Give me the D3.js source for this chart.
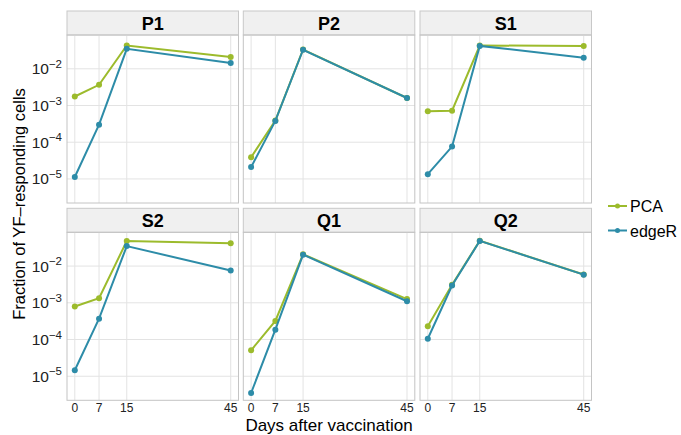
<!DOCTYPE html>
<html>
<head>
<meta charset="utf-8">
<script src="https://cdn.jsdelivr.net/npm/d3@7"></script>
<style>
  body { margin: 0; background: white; }
  text { font-family: "Liberation Sans", Arial, sans-serif; }
</style>
</head>
<body>
<div id="chart"></div>
<script>
// chart data

const days = [0, 7, 15, 45];
const panels = ["P1", "P2", "S1", "S2", "Q1", "Q2"];
const methods = ["PCA", "edgeR"];
const yTickExps = [-2, -3, -4, -5];

// one row per panel, values at days 0, 7, 15, 45
const pcaValues = [
    [1.76e-3, 3.66e-3, 4.3e-2, 2.1e-2],
    [3.9e-5, 3.9e-4, 3.35e-2, 1.6e-3],
    [7.0e-4, 7.2e-4, 4.3e-2, 4.2e-2],
    [7.9e-4, 1.34e-3, 4.8e-2, 4.2e-2],
    [5.1e-5, 3.2e-4, 2.1e-2, 1.26e-3],
    [2.3e-4, 3.1e-3, 4.9e-2, 5.9e-3]
];
const edgeRValues = [
    [1.13e-5, 3.0e-4, 3.5e-2, 1.43e-2],
    [2.1e-5, 3.8e-4, 3.3e-2, 1.6e-3],
    [1.35e-5, 7.6e-5, 4.2e-2, 2.0e-2],
    [1.46e-5, 3.7e-4, 3.5e-2, 7.6e-3],
    [3.5e-6, 1.86e-4, 2.05e-2, 1.1e-3],
    [1.05e-4, 2.95e-3, 4.85e-2, 5.85e-3]
];

const colors = {PCA: "#9cbb2c", edgeR: "#2d8ca8"};

// layout

const width = 681;
const height = 435;
const panelW = 171.5;
const panelH = 168;
const stripH = 24;
const colX = [67, 243.3, 420];
const rowY = [11, 208.3];

const svg = d3.select("#chart")
    .append("svg")
    .attr("width", width)
    .attr("height", height);

const x = d3.scaleLinear().domain([-2.25, 47.25]).range([0, panelW]);
const y = d3.scaleLog().domain([Math.pow(10, -5.655), Math.pow(10, -1.08)]).range([panelH, 0]);

const line = d3.line()
    .x((d, i) => x(days[i]))
    .y(d => y(d));

panels.forEach((name, p) => {
    const col = p % 3;
    const row = Math.floor(p / 3);
    const g = svg.append("g")
        .attr("transform", `translate(${colX[col]},${rowY[row]})`);

    // strip
    g.append("rect")
        .attr("x", 0).attr("y", 0)
        .attr("width", panelW).attr("height", stripH)
        .attr("fill", "#f0f0f0")
        .attr("stroke", "#c8c8c8")
        .attr("stroke-width", 1);
    g.append("text")
        .attr("x", panelW / 2)
        .attr("y", stripH / 2 + 6.5)
        .attr("text-anchor", "middle")
        .style("font-size", "18px")
        .style("font-weight", "bold")
        .text(name);

    const plot = g.append("g").attr("transform", `translate(0,${stripH})`);

    // grid
    plot.selectAll(".hgrid")
        .data(yTickExps)
        .join("line")
        .attr("x1", 0).attr("x2", panelW)
        .attr("y1", d => y(Math.pow(10, d)))
        .attr("y2", d => y(Math.pow(10, d)))
        .attr("stroke", "#e3e3e3")
        .attr("stroke-width", 1);
    plot.selectAll(".vgrid")
        .data(days)
        .join("line")
        .attr("y1", 0).attr("y2", panelH)
        .attr("x1", d => x(d))
        .attr("x2", d => x(d))
        .attr("stroke", "#e3e3e3")
        .attr("stroke-width", 1);

    // series, edgeR drawn last so it sits on top
    [pcaValues, edgeRValues].forEach((vals, m) => {
        const c = colors[methods[m]];
        plot.append("path")
            .attr("d", line(vals[p]))
            .attr("fill", "none")
            .attr("stroke", c)
            .attr("stroke-width", 2);
        plot.selectAll(".pt" + m)
            .data(vals[p])
            .join("circle")
            .attr("cx", (d, i) => x(days[i]))
            .attr("cy", d => y(d))
            .attr("r", 3)
            .attr("fill", c);
    });

    // panel border
    plot.append("rect")
        .attr("width", panelW).attr("height", panelH)
        .attr("fill", "none")
        .attr("stroke", "#c4c4c4")
        .attr("stroke-width", 1);

    // y labels on left column
    if (col === 0) {
        const lab = plot.selectAll(".ylab")
            .data(yTickExps)
            .join("text")
            .attr("x", -5)
            .attr("y", d => y(Math.pow(10, d)) + 5.5)
            .attr("text-anchor", "end")
            .style("font-size", "15.5px")
            .attr("fill", "#222");
        lab.append("tspan").text("10");
        lab.append("tspan")
            .attr("dy", -6.5)
            .style("font-size", "11.5px")
            .text(d => "\u2212" + Math.abs(d));
    }

    // x labels on bottom row
    if (row === 1) {
        plot.selectAll(".xlab")
            .data(days)
            .join("text")
            .attr("x", d => x(d))
            .attr("y", panelH + 11.5)
            .attr("text-anchor", "middle")
            .style("font-size", "12px")
            .attr("fill", "#222")
            .text(d => d);
    }
});

// axis titles
svg.append("text")
    .attr("x", 329)
    .attr("y", 431)
    .attr("text-anchor", "middle")
    .style("font-size", "17px")
    .text("Days after vaccination");

svg.append("text")
    .attr("transform", "translate(25,204) rotate(-90)")
    .attr("text-anchor", "middle")
    .style("font-size", "16.5px")
    .text("Fraction of YF\u2013responding cells");

// legend
const legend = svg.append("g").attr("transform", "translate(608,206)");
methods.forEach((m, i) => {
    const lg = legend.append("g").attr("transform", `translate(0,${i * 24.5})`);
    lg.append("line")
        .attr("x1", 0).attr("x2", 19)
        .attr("stroke", colors[m])
        .attr("stroke-width", 2);
    lg.append("circle")
        .attr("cx", 9.5).attr("r", 2.5)
        .attr("fill", colors[m]);
    lg.append("text")
        .attr("x", 22)
        .attr("y", 6)
        .style("font-size", "16px")
        .text(m);
});
</script>
</body>
</html>
